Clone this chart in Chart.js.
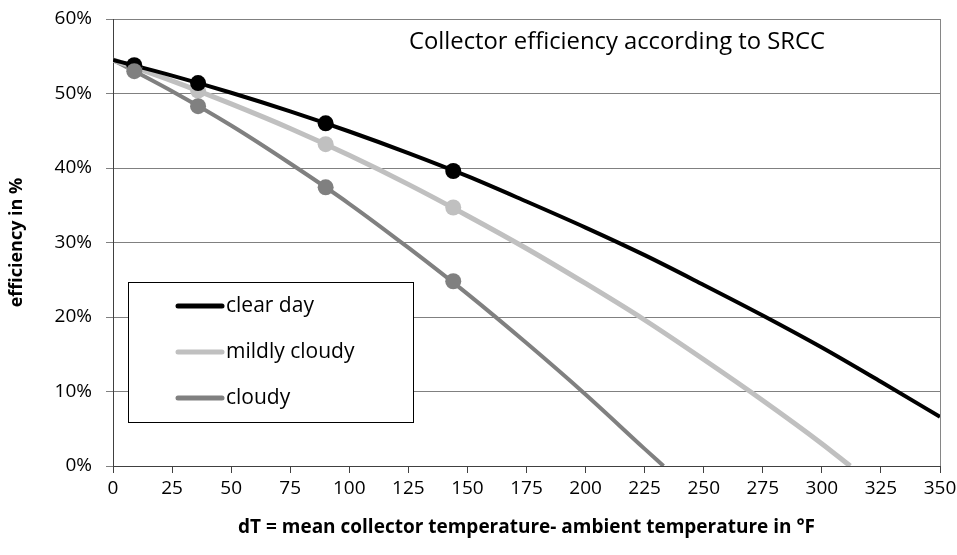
<!DOCTYPE html>
<html>
<head>
<meta charset="utf-8">
<script src="https://cdn.jsdelivr.net/npm/chart.js@4.4.0/dist/chart.umd.min.js"></script>
<style>
  html, body { margin: 0; padding: 0; background: #fff; }
</style>
</head>
<body>
<canvas id="effChart" width="957" height="555"></canvas>
<script>
// curve samples (dT in °F, efficiency in %)
const clearDayX = [0, 25, 50, 75, 100, 125, 150, 175, 200, 225, 250, 275, 300, 325, 350];
const clearDay  = [54.5, 52.4, 50.1, 47.6, 44.9, 42.0, 38.9, 35.5, 32.0, 28.3, 24.3, 20.2, 15.9, 11.3, 6.6];
const mildlyX   = [0, 25, 50, 75, 100, 125, 150, 175, 200, 225, 250, 275, 300, 312];
const mildly    = [54.5, 51.7, 48.6, 45.3, 41.7, 37.8, 33.6, 29.2, 24.5, 19.6, 14.3, 8.8, 3.0, 0];
const cloudyX   = [0, 25, 50, 75, 100, 125, 150, 175, 200, 225, 233];
const cloudy    = [54.5, 50.3, 45.7, 40.6, 35.2, 29.3, 23.1, 16.5, 9.6, 2.3, 0];

// SRCC rating points
const markerX      = [9, 36, 90, 144];
const clearDayPts  = [53.8, 51.4, 46.0, 39.6];
const mildlyPts    = [53.5, 50.4, 43.2, 34.7];
const cloudyPts    = [53.0, 48.3, 37.4, 24.8];

const seriesLabels = ['clear day', 'mildly cloudy', 'cloudy'];
const seriesColors = ['#000000', '#c0c0c0', '#808080'];
const chartTitle = 'Collector efficiency according to SRCC';

const FONT = '"Open Sans"';

const pts = (xs, ys) => xs.map((x, i) => ({ x: x, y: ys[i] }));

const curve = (i, xs, ys, width, order) => ({
  label: seriesLabels[i],
  data: pts(xs, ys),
  showLine: true,
  borderColor: seriesColors[i],
  borderWidth: width,
  pointRadius: 0,
  cubicInterpolationMode: 'monotone',
  order: order
});

const markers = (i, ys, order) => ({
  label: seriesLabels[i] + ' points',
  data: pts(markerX, ys),
  showLine: false,
  pointRadius: 8,
  pointBackgroundColor: seriesColors[i],
  pointBorderColor: seriesColors[i],
  pointBorderWidth: 0,
  order: order
});

// title and legend sit inside the plot area
const overlay = {
  id: 'overlay',
  beforeDatasetsDraw(chart) {
    const { ctx, chartArea: a } = chart;
    ctx.save();
    ctx.strokeStyle = '#868686';
    ctx.lineWidth = 1;
    ctx.beginPath();
    ctx.moveTo(Math.round(a.right) + 0.5, a.top);
    ctx.lineTo(Math.round(a.right) + 0.5, a.bottom);
    ctx.stroke();
    ctx.restore();
  },
  afterDatasetsDraw(chart) {
    const { ctx, chartArea: a } = chart;
    ctx.save();
    ctx.font = '23.8px ' + FONT;
    ctx.fillStyle = '#000';
    ctx.textAlign = 'center';
    ctx.textBaseline = 'middle';
    ctx.fillText(chartTitle, a.left + 504, a.top + 23);

    const bx = Math.round(a.left) + 15, by = Math.round(a.top) + 263, bw = 285, bh = 140;
    ctx.fillStyle = '#fff';
    ctx.fillRect(bx, by, bw, bh);
    ctx.strokeStyle = '#000';
    ctx.lineWidth = 1;
    ctx.strokeRect(bx + 0.5, by + 0.5, bw, bh);

    ctx.font = '21px ' + FONT;
    seriesLabels.forEach((lbl, i) => {
      const y = by + 24 + i * 46;
      ctx.strokeStyle = seriesColors[i];
      ctx.lineWidth = 5;
      ctx.lineCap = 'round';
      ctx.beginPath();
      ctx.moveTo(bx + 50, y);
      ctx.lineTo(bx + 94, y);
      ctx.stroke();
      ctx.fillStyle = '#000';
      ctx.textAlign = 'left';
      ctx.fillText(lbl, bx + 98, y);
    });
    ctx.restore();
  }
};

const ctx = document.getElementById('effChart').getContext('2d');
new Chart(ctx, {
  type: 'scatter',
  data: {
    datasets: [
      markers(2, cloudyPts, 0),
      markers(0, clearDayPts, 1),
      markers(1, mildlyPts, 2),
      curve(0, clearDayX, clearDay, 4, 3),
      curve(1, mildlyX, mildly, 5, 4),
      curve(2, cloudyX, cloudy, 4, 5)
    ]
  },
  options: {
    responsive: false,
    animation: false,
    layout: { padding: { top: 19, right: 17, bottom: 0, left: 0 } },
    plugins: {
      legend: { display: false },
      tooltip: { enabled: false }
    },
    scales: {
      x: {
        type: 'linear',
        min: 0,
        max: 350,
        ticks: { stepSize: 25, color: '#000', padding: 4, maxRotation: 0, font: { family: FONT, size: 19 } },
        grid: { drawOnChartArea: false, tickLength: 7, color: '#404040' },
        border: { color: '#404040' },
        title: {
          display: true,
          text: 'dT = mean collector temperature- ambient temperature in °F',
          color: '#000',
          font: { family: FONT, size: 19, weight: 'bold' },
          padding: { top: 0, bottom: 16 }
        },
        afterFit(scale) {
          scale.height = 89;
          scale.paddingLeft = 0;
          scale.paddingRight = 0;
        }
      },
      y: {
        min: 0,
        max: 60,
        ticks: { stepSize: 10, color: '#000', padding: 14, font: { family: FONT, size: 19 }, callback: v => v + '%' },
        grid: { color: '#808080', tickLength: 7 },
        border: { color: '#404040' },
        title: {
          display: true,
          text: 'efficiency in %',
          color: '#000',
          font: { family: FONT, size: 18, weight: 'bold' },
          padding: { top: 6, bottom: 0 }
        },
        afterFit(scale) {
          scale.width = 113;
          scale.paddingTop = 0;
          scale.paddingBottom = 0;
        }
      }
    }
  },
  plugins: [overlay]
});
</script>
</body>
</html>
